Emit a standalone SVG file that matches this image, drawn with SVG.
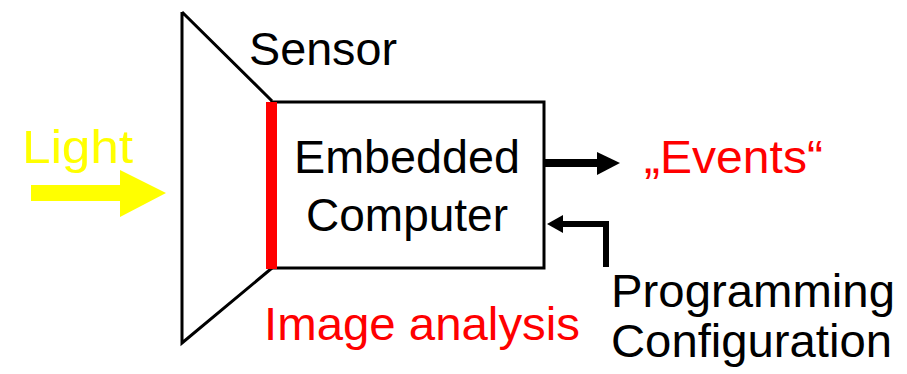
<svg xmlns="http://www.w3.org/2000/svg" width="907" height="374" viewBox="0 0 907 374">
<style>
text{font-family:"Liberation Sans",Arial,sans-serif;font-size:46px}
.blk{fill:#000}.red{fill:#f00}.yel{fill:#ff0}
.ln{fill:none;stroke:#000;stroke-width:3}
</style>
<rect width="907" height="374" fill="#fff"/>
<g id="sensor">
<path class="ln" d="M182,12 V343 L272,268 M182,12 L272,101"/>
<text class="blk" x="249" y="65" textLength="148" lengthAdjust="spacingAndGlyphs">Sensor</text>
</g>
<g id="computer">
<rect class="ln" x="272" y="102" width="272" height="166"/>
<rect x="266" y="102" width="11" height="167" fill="#f00"/>
<text class="blk" x="407" y="173" text-anchor="middle" textLength="226" lengthAdjust="spacingAndGlyphs">Embedded</text>
<text class="blk" x="407" y="231" text-anchor="middle" textLength="202" lengthAdjust="spacingAndGlyphs">Computer</text>
</g>
<g id="light">
<text class="yel" x="22" y="163" font-size="50" textLength="111" lengthAdjust="spacingAndGlyphs">Light</text>
</g>
<g id="image-analysis">
<text class="red" x="264" y="340" textLength="316" lengthAdjust="spacingAndGlyphs">Image analysis</text>
</g>
<g id="events">
<text class="red" x="644" y="173" textLength="179" lengthAdjust="spacingAndGlyphs">„Events“</text>
</g>
<g id="programming">
<text class="blk" x="611" y="307" textLength="284" lengthAdjust="spacingAndGlyphs">Programming</text>
<text class="blk" x="611" y="357" textLength="281" lengthAdjust="spacingAndGlyphs">Configuration</text>
</g>
<g id="connectors">
<polygon class="yel" points="31,185 120,185 120,170 166,193 120,217 120,201 31,201"/>
<path d="M545,163 H599" stroke="#000" stroke-width="8" fill="none"/>
<polygon points="597,152 620,163 597,175" fill="#000"/>
<path d="M606,267 V224 H560" stroke="#000" stroke-width="6" fill="none"/>
<polygon points="563,215 547,224 563,233" fill="#000"/>
</g>
</svg>
